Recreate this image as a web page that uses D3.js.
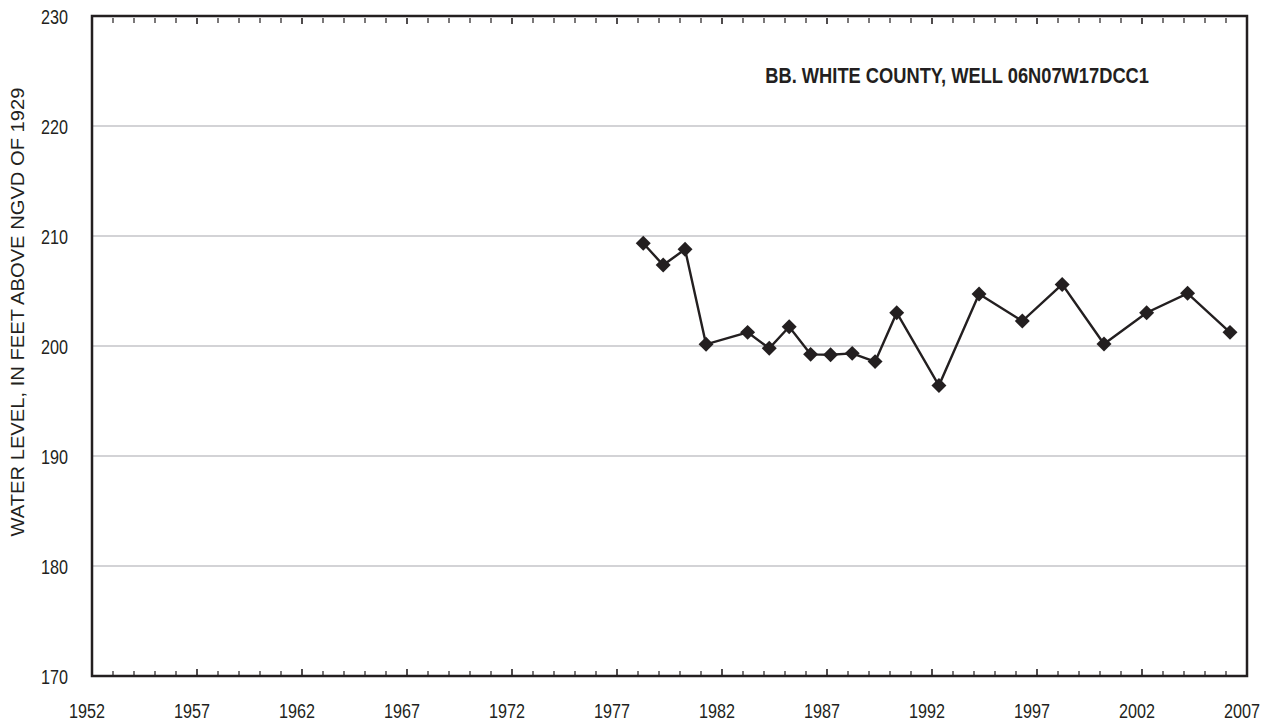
<!DOCTYPE html>
<html>
<head>
<meta charset="utf-8">
<script src="https://cdn.jsdelivr.net/npm/d3@7"></script>
<style>
  html, body { margin: 0; padding: 0; background: #fff; }
  svg { display: block; }
  text { font-family: "Liberation Sans", Arial, sans-serif; fill: #231f20; }
</style>
</head>
<body>
<svg id="chart" width="1271" height="725"></svg>
<script>
// Water-level measurements (decimal year of measurement, feet above NGVD of 1929)
const years = [1978.25, 1979.2, 1980.24, 1981.24, 1983.22, 1984.25, 1985.2, 1986.22,
               1987.17, 1988.2, 1989.29, 1990.32, 1992.33, 1994.24, 1996.3, 1998.2,
               2000.19, 2002.22, 2004.17, 2006.19];
const levels = [209.34, 207.36, 208.79, 200.15, 201.24, 199.79, 201.75, 199.24,
                199.21, 199.33, 198.58, 203.03, 196.4, 204.73, 202.27, 205.6,
                200.18, 203.03, 204.79, 201.24];
const xTickLabels = [1952, 1957, 1962, 1967, 1972, 1977, 1982, 1987, 1992, 1997, 2002, 2007];
const yTickLabels = [170, 180, 190, 200, 210, 220, 230];
const titleText = "BB. WHITE COUNTY, WELL 06N07W17DCC1";
const yAxisTitle = "WATER LEVEL, IN FEET ABOVE NGVD OF 1929";

const svg = d3.select("#chart");
const m = { left: 92, right: 1247, top: 16, bottom: 676 };
const ink = "#231f20";
const narrow = 0.83; // horizontal squeeze giving a condensed face

const x = d3.scaleLinear().domain([1952, 2007]).range([m.left, m.right]);
const y = d3.scaleLinear().domain([170, 230]).range([m.bottom, m.top]);

// horizontal gridlines
svg.append("g").selectAll("line")
  .data(yTickLabels.filter(v => v > 170 && v < 230))
  .join("line")
  .attr("x1", m.left).attr("x2", m.right)
  .attr("y1", d => y(d)).attr("y2", d => y(d))
  .attr("stroke", "#c4c4c8").attr("stroke-width", 1.3);

// yearly tick marks on top and bottom, longer at five-year marks
const yearTicks = d3.range(1953, 2007);
const major = d => (d - 1952) % 5 === 0;
svg.append("g").selectAll("line")
  .data(yearTicks).join("line")
  .attr("x1", d => x(d)).attr("x2", d => x(d))
  .attr("y1", m.bottom).attr("y2", d => m.bottom - (major(d) ? 7 : 5))
  .attr("stroke", ink).attr("stroke-width", d => major(d) ? 1.6 : 1.2);
svg.append("g").selectAll("line")
  .data(yearTicks).join("line")
  .attr("x1", d => x(d)).attr("x2", d => x(d))
  .attr("y1", m.top + 2).attr("y2", d => m.top + (major(d) ? 8 : 7))
  .attr("stroke", ink).attr("stroke-width", d => major(d) ? 1.6 : 1.2);

// frame
svg.append("rect")
  .attr("x", m.left).attr("y", m.top)
  .attr("width", m.right - m.left).attr("height", m.bottom - m.top)
  .attr("fill", "none").attr("stroke", ink).attr("stroke-width", 2.5);

// axis labels
svg.append("g").selectAll("g")
  .data(yTickLabels).join("g")
  .attr("transform", d => `translate(68, ${y(d) + 1}) scale(${narrow}, 1)`)
  .append("text")
  .attr("dy", "0.36em")
  .attr("text-anchor", "end")
  .attr("font-size", 19.5)
  .text(d => d);
svg.append("g").selectAll("g")
  .data(xTickLabels).join("g")
  .attr("transform", d => `translate(${x(d) - 5}, 711) scale(${narrow}, 1)`)
  .append("text")
  .attr("dy", "0.36em")
  .attr("text-anchor", "middle")
  .attr("font-size", 19.5)
  .text(d => d);

// squeeze a text element horizontally so it spans the given width
function fitTo(sel, width) {
  const len = sel.node().getComputedTextLength();
  return width / len;
}

const yt = svg.append("g");
const ytText = yt.append("text")
  .attr("dy", "0.36em")
  .attr("text-anchor", "middle")
  .attr("font-size", 18)
  .text(yAxisTitle);
yt.attr("transform", `translate(18, 312) rotate(-90) scale(${fitTo(ytText, 449)}, 1)`);

const tg = svg.append("g");
const tText = tg.append("text")
  .attr("dy", "0.36em")
  .attr("text-anchor", "end")
  .attr("font-size", 22)
  .attr("font-weight", "bold")
  .text(titleText);
tg.attr("transform", `translate(1149, 75) scale(${fitTo(tText, 384)}, 1)`);

// series line and diamond markers
const pts = years.map((yr, i) => [yr, levels[i]]);
svg.append("path")
  .datum(pts)
  .attr("fill", "none").attr("stroke", ink).attr("stroke-width", 2.4)
  .attr("stroke-linejoin", "miter")
  .attr("d", d3.line().x(d => x(d[0])).y(d => y(d[1])));

const diamond = d3.symbol().type(d3.symbolSquare).size(112);
svg.append("g").selectAll("path")
  .data(pts).join("path")
  .attr("transform", d => `translate(${x(d[0])},${y(d[1])}) rotate(45)`)
  .attr("d", diamond)
  .attr("fill", ink);
</script>
</body>
</html>
